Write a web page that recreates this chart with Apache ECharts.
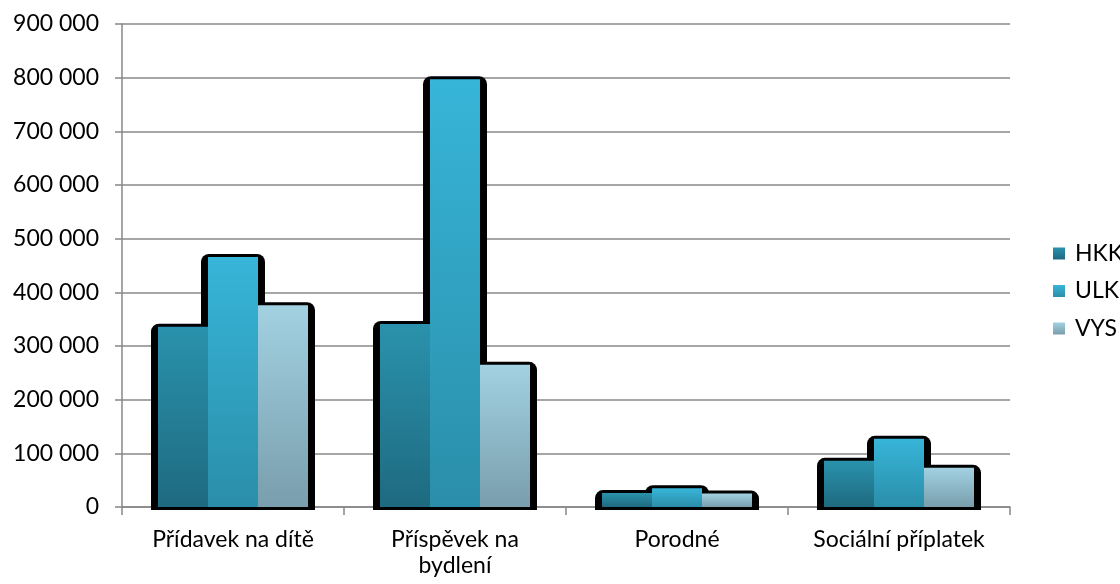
<!DOCTYPE html>
<html>
<head>
<meta charset="utf-8">
<script src="https://cdn.jsdelivr.net/npm/echarts@6/dist/echarts.min.js"></script>
<style>html,body{margin:0;padding:0;background:#fff}#c{width:1120px;height:584px}</style>
</head>
<body>
<div id="c"></div>
<script>
const categories = ['Přídavek na dítě', 'Příspěvek na\nbydlení', 'Porodné', 'Sociální příplatek'];
const seriesNames = ['HKK', 'ULK', 'VYS'];
const hkk = [336000, 341000, 26000, 86000];
const ulk = [466000, 797000, 35000, 127000];
const vys = [376000, 265000, 25000, 73000];
const yTicks = {min: 0, max: 900000, interval: 100000};

const allValues = [hkk, ulk, vys];
const gradients = [
  ['#2A92AC', '#1E6A80'],
  ['#37B5D8', '#2A8EA9'],
  ['#A2D1E1', '#799EAD']
];
const BW = 50;
function grad(c) {
  return new echarts.graphic.LinearGradient(0, 0, 0, 1, [{offset: 0, color: c[0]}, {offset: 1, color: c[1]}]);
}
const shadowData = [];
allValues.forEach((arr, s) => arr.forEach((v, i) => shadowData.push([i, v, s])));

const chart = echarts.init(document.getElementById('c'), null, {renderer: 'canvas'});
const font = 'Lato';
chart.setOption({
  animation: false,
  backgroundColor: '#fff',
  grid: {left: 122, right: 110, top: 24, bottom: 77, containLabel: false},
  legend: {
    orient: 'vertical', left: 1053, top: 242, padding: 0,
    data: seriesNames,
    itemWidth: 12, itemHeight: 12, itemGap: 14.5,
    icon: 'rect',
    textStyle: {fontFamily: font, fontSize: 23, color: '#000', lineHeight: 22, padding: [0, 0, 0, 5]}
  },
  xAxis: {
    type: 'category', data: categories,
    axisLine: {lineStyle: {color: '#878787', width: 1.5}},
    axisTick: {show: true, length: 8, lineStyle: {color: '#878787', width: 1.5}},
    axisLabel: {fontFamily: font, fontSize: 23, color: '#000', lineHeight: 26, margin: 20, interval: 0}
  },
  yAxis: {
    type: 'value', min: yTicks.min, max: yTicks.max, interval: yTicks.interval,
    axisLine: {show: true, lineStyle: {color: '#878787', width: 1.5}},
    axisTick: {show: true, length: 7, lineStyle: {color: '#878787', width: 1.5}},
    splitLine: {lineStyle: {color: '#A6A6A6', width: 2}},
    axisLabel: {fontFamily: font, fontSize: 23, color: '#000', margin: 23,
      formatter: v => String(v).replace(/\B(?=(\d{3})+(?!\d))/g, ' ')}
  },
  series: [
    {
      type: 'custom', z: 1, silent: true,
      data: shadowData,
      renderItem: function (params, api) {
        const cat = api.value(0), val = api.value(1), s = api.value(2);
        const top = api.coord([cat, val]);
        const base = api.coord([cat, 0]);
        const cx = top[0] + (s - 1) * BW;
        return {
          type: 'rect',
          shape: {x: cx - BW / 2 - 7, y: top[1] - 3, width: BW + 14, height: base[1] - top[1] + 6, r: [8, 8, 0, 0]},
          style: {fill: '#000'}
        };
      }
    }
  ].concat(seriesNames.map((n, s) => ({
    name: n, type: 'bar', z: 2,
    data: allValues[s],
    barWidth: BW, barGap: '0%',
    itemStyle: {color: grad(gradients[s])}
  })))
});
</script>
</body>
</html>
